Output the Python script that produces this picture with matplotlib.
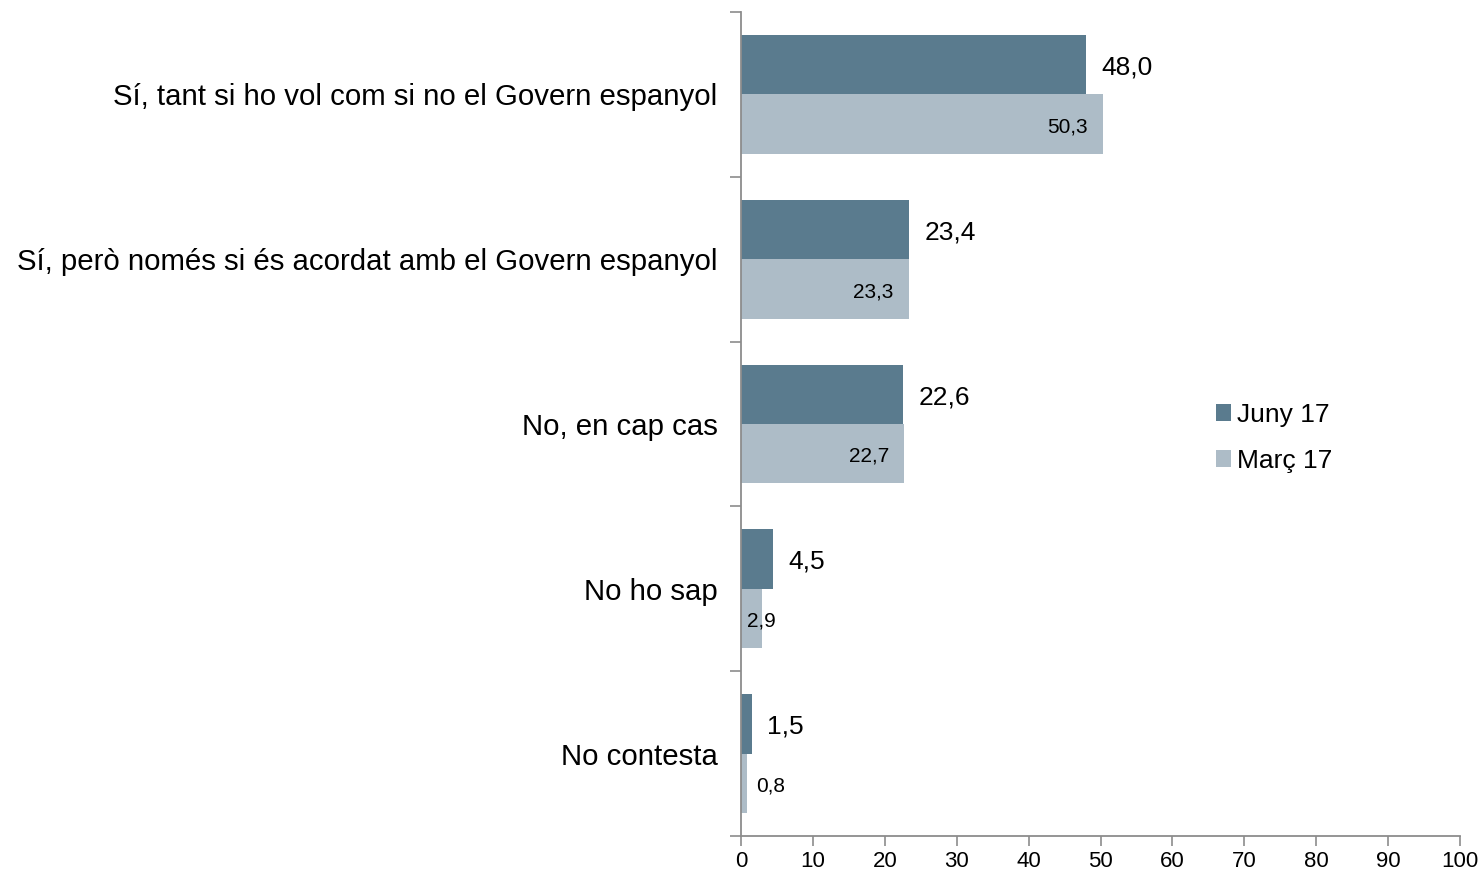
import matplotlib
matplotlib.use("Agg")
import matplotlib.pyplot as plt
import numpy as np
from matplotlib import font_manager as fm

categories = ["Sí, tant si ho vol com si no el Govern espanyol",
              "Sí, però només si és acordat amb el Govern espanyol",
              "No, en cap cas",
              "No ho sap",
              "No contesta"]
juny = [48.0, 23.4, 22.6, 4.5, 1.5]
marc = [50.3, 23.3, 22.7, 2.9, 0.8]
series_names = ["Juny 17", "Març 17"]
xticks = [0, 10, 20, 30, 40, 50, 60, 70, 80, 90, 100]

c_juny = "#5a7b8e"
c_marc = "#adbcc7"
axis_c = "#8c8c8c"

names = {f.name for f in fm.fontManager.ttflist}
narrow = "Liberation Sans Narrow" if "Liberation Sans Narrow" in names else "Liberation Sans"
plt.rcParams['font.family'] = ['Liberation Sans', 'DejaVu Sans']

fig = plt.figure(figsize=(14.82, 8.72), dpi=100)
ax = fig.add_axes([741/1482, 1-836/872, (1460-741)/1482, (836-12)/872])

n = len(categories)
y = np.arange(n)
h = 0.36
ax.barh(y - h/2, juny, height=h, color=c_juny, label=series_names[0])
ax.barh(y + h/2, marc, height=h, color=c_marc, label=series_names[1])

ax.set_xlim(0, 100)
ax.set_ylim(n - 0.5, -0.5)
ax.set_xticks(xticks)
ax.set_xticklabels([str(t) for t in xticks], fontfamily=narrow, fontsize=16)
ax.set_yticks(y)
ax.set_yticklabels(categories, fontsize=21.2)
ax.set_yticks(np.arange(n + 1) - 0.5, minor=True)
ax.tick_params(axis='y', which='major', length=0, pad=17)
ax.tick_params(axis='y', which='minor', length=8, width=1.2, color=axis_c, direction='out')
ax.tick_params(axis='x', length=7, width=1.2, color=axis_c, direction='out', pad=4)

for s in ['top', 'right']:
    ax.spines[s].set_visible(False)
for s in ['left', 'bottom']:
    ax.spines[s].set_color(axis_c)
    ax.spines[s].set_linewidth(1.3)

for i, v in enumerate(juny):
    ax.annotate(f"{v:.1f}".replace(".", ","), (v, i - h/2), xytext=(11, -2),
                textcoords='offset points', ha='left', va='center', fontsize=19)
for i, v in enumerate(marc):
    lab = f"{v:.1f}".replace(".", ",")
    if v >= 5:
        ax.annotate(lab, (v, i + h/2), xytext=(-11, -2), textcoords='offset points',
                    ha='right', va='center', fontsize=15)
    elif v >= 2:
        ax.annotate(lab, (v, i + h/2), xytext=(0, -2), textcoords='offset points',
                    ha='center', va='center', fontsize=15)
    else:
        ax.annotate(lab, (v, i + h/2), xytext=(7, -2), textcoords='offset points',
                    ha='left', va='center', fontsize=15)

leg = ax.legend(loc='upper left', bbox_to_anchor=((1205-741)/(1460-741), 1-(392-12)/824),
                frameon=False, fontsize=19, handlelength=0.6, handleheight=0.6,
                handletextpad=0.2, labelspacing=0.85, borderaxespad=0)

fig.savefig("out.png", dpi=100)
